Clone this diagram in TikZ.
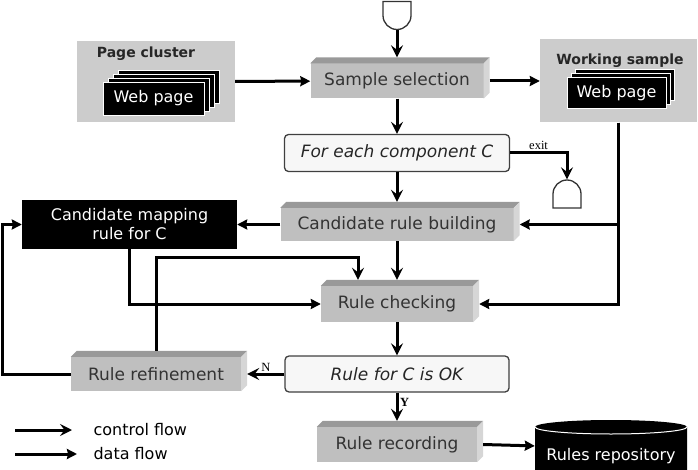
\documentclass[tikz,border=0pt]{standalone}
\usepackage{fontspec}
\setmainfont{DejaVu Sans}
\newfontfamily\labelfont{Liberation Serif}
\usetikzlibrary{shapes.geometric, shapes.misc, arrows.meta, positioning}
\definecolor{boxface}{gray}{0.75}
\definecolor{boxtop}{gray}{0.60}
\definecolor{boxside}{gray}{0.84}
\definecolor{boxtext}{gray}{0.2}
\definecolor{storegray}{gray}{0.80}
\tikzstyle{stepbox} = [rectangle, fill=boxface, text=boxtext, minimum height=35pt, inner sep=0pt, font=\fontsize{17}{20}\selectfont]
\tikzstyle{loopbox} = [rectangle, rounded corners=4pt, draw=black!75, line width=1.3pt, fill=black!3, minimum height=37pt, text=black!85, font=\fontsize{17}{20}\selectfont\itshape]
\tikzstyle{container} = [rectangle, fill=storegray]
\tikzstyle{boxtitle} = [font=\fontsize{14}{16}\selectfont\bfseries, text=black!85]
\tikzstyle{webpage} = [rectangle, fill=black, draw=white, line width=0.9pt, text=white, font=\fontsize{16}{19}\selectfont]
\tikzstyle{blackbox} = [rectangle, fill=black, text=white, align=center, font=\fontsize{16}{19}\selectfont]
\tikzstyle{terminal} = [rounded rectangle, draw=black!80, fill=white, line width=1.3pt, inner sep=0pt, rotate=90]
\tikzstyle{datastore} = [rectangle, text=white, text height=28pt, text depth=4pt, font=\fontsize{16}{19}\selectfont,
    path picture={
        \fill[black] ([yshift=-7pt]path picture bounding box.north west) arc[start angle=180, end angle=0, x radius=76pt, y radius=7pt]
            -- (path picture bounding box.south east) -- (path picture bounding box.south west) -- cycle;
        \draw[white, line width=1pt] ([yshift=-7pt]path picture bounding box.north west) arc[start angle=180, end angle=360, x radius=76pt, y radius=7pt];
    }]
\tikzstyle{ctrl} = [line width=3pt, -{Stealth[length=12pt,width=12pt,inset=4.5pt]}]
\tikzstyle{data} = [line width=3pt, -{Stealth[length=10pt,width=10pt,inset=1pt]}]
\tikzstyle{flowlabel} = [font=\labelfont\fontsize{12.5}{14}\selectfont, inner sep=1.5pt]
\tikzstyle{legendtext} = [anchor=west, font=\fontsize{16}{19}\selectfont]

\begin{document}
\begin{tikzpicture}[x=1pt, y=1pt]
        \useasboundingbox (0,0) rectangle (698,469);

        % Pages en entree
        \node (pc) [container, minimum width=158pt, minimum height=81pt] at (156,387.5) {};
        \node (pctitle) [boxtitle] at (146,415) {Page cluster};
        \foreach \k in {3,2,1}
            \node (pcpage\k) [webpage, minimum width=101pt, minimum height=33pt, xshift=\k*5pt, yshift=\k*4pt] at (153.5,370.5) {};
        \node (pcpage) [webpage, minimum width=101pt, minimum height=33pt] at (153.5,370.5) {Web page};

        \node (ws) [container, minimum width=157pt, minimum height=83pt] at (618.5,388) {};
        \node (wstitle) [boxtitle] at (620,408) {Working sample};
        \foreach \k in {2,1}
            \node (wspage\k) [webpage, minimum width=99pt, minimum height=31pt, xshift=\k*4pt, yshift=\k*4pt] at (616.5,376) {};
        \node (wspage) [webpage, minimum width=99pt, minimum height=31pt] at (616.5,376) {Web page};

        % Colonne principale
        \node (start) [terminal, rounded rectangle east arc=none, minimum width=25pt, minimum height=28pt] at (397,453.5) {};
        \node (select) [stepbox, minimum width=173pt] at (397,388) {Sample selection};
        \node (foreach) [loopbox, minimum width=225pt] at (397,316) {For each component C};
        \node (endterm) [terminal, rounded rectangle west arc=none, minimum width=22pt, minimum height=28pt] at (567,275) {};
        \node (build) [stepbox, minimum width=233pt, minimum height=33pt] at (397,244.5) {Candidate rule building};
        \node (cand) [blackbox, minimum width=215pt, minimum height=49pt] at (129.5,244.5) {Candidate mapping\\rule for C};
        \node (check) [stepbox, minimum width=152pt, minimum height=36pt] at (397,165) {Rule checking};
        \node (okrule) [loopbox, minimum width=224pt, minimum height=36pt] at (397,95) {Rule for C is OK};
        \node (refine) [stepbox, minimum width=170pt, minimum height=34pt] at (156,95) {Rule refinement};
        \node (record) [stepbox, minimum width=160pt] at (397,24.5) {Rule recording};
        \node (repo) [datastore, minimum width=152pt, minimum height=56pt] at (611,21) {Rules repository};

        % Faces 3D
        \foreach \n in {select,build,check,refine,record} {
            \fill[boxtop] (\n.north west) -- ++(6,6) -- ([shift={(6,6)}]\n.north east) -- (\n.north east) -- cycle;
            \fill[boxside] (\n.north east) -- ++(6,6) -- ([shift={(6,6)}]\n.south east) -- (\n.south east) -- cycle;
        }

        % Legende
        \coordinate (ctrlA) at (15,39);
        \coordinate (ctrlB) at (72,39);
        \coordinate (dataA) at (15,15);
        \coordinate (dataB) at (77,15);
        \node (ctrltext) [legendtext] at (90,39) {control flow};
        \node (datatext) [legendtext] at (90,15) {data flow};
        \draw [ctrl] (ctrlA) -- (ctrlB);
        \draw [data] (dataA) -- (dataB);

        % Fleches controle
        \draw [ctrl] (start) -- ([yshift=6pt]select.north);
        \draw [ctrl] (select) -- (foreach);
        \draw [ctrl] (foreach.east) -| (endterm) node[pos=0.25, above, flowlabel]{exit};
        \draw [ctrl] (foreach) -- ([yshift=6pt]build.north);
        \draw [ctrl] (build) -- ([yshift=6pt]check.north);
        \draw [ctrl] (check) -- (okrule);
        \draw [ctrl] (okrule.west) -- ([xshift=6pt]refine.east) node[midway, above, flowlabel]{N};
        \draw [ctrl] (okrule) -- ([yshift=6pt]record.north) node[pos=0.35, right, flowlabel]{\bfseries Y};
        \draw [ctrl] ([yshift=6pt]refine.north) -- ++(0,93) -| ([xshift=-39pt,yshift=6pt]check.north);

        % Fleches donnees
        \draw [data] (pc) -- (select);
        \draw [data] ([xshift=6pt]select.east) -- (ws);
        \draw [data] (ws.south) |- ([xshift=6pt]build.east);
        \draw [data] (ws.south) |- ([xshift=6pt]check.east);
        \draw [data] (build) -- (cand);
        \draw [data] (cand.south) |- (check.west);
        \draw [data] (refine.west) -- ++(-68,0) |- (cand.west);
        \draw [data] ([xshift=6pt]record.east) -- (repo);

    \end{tikzpicture}
\end{document}
